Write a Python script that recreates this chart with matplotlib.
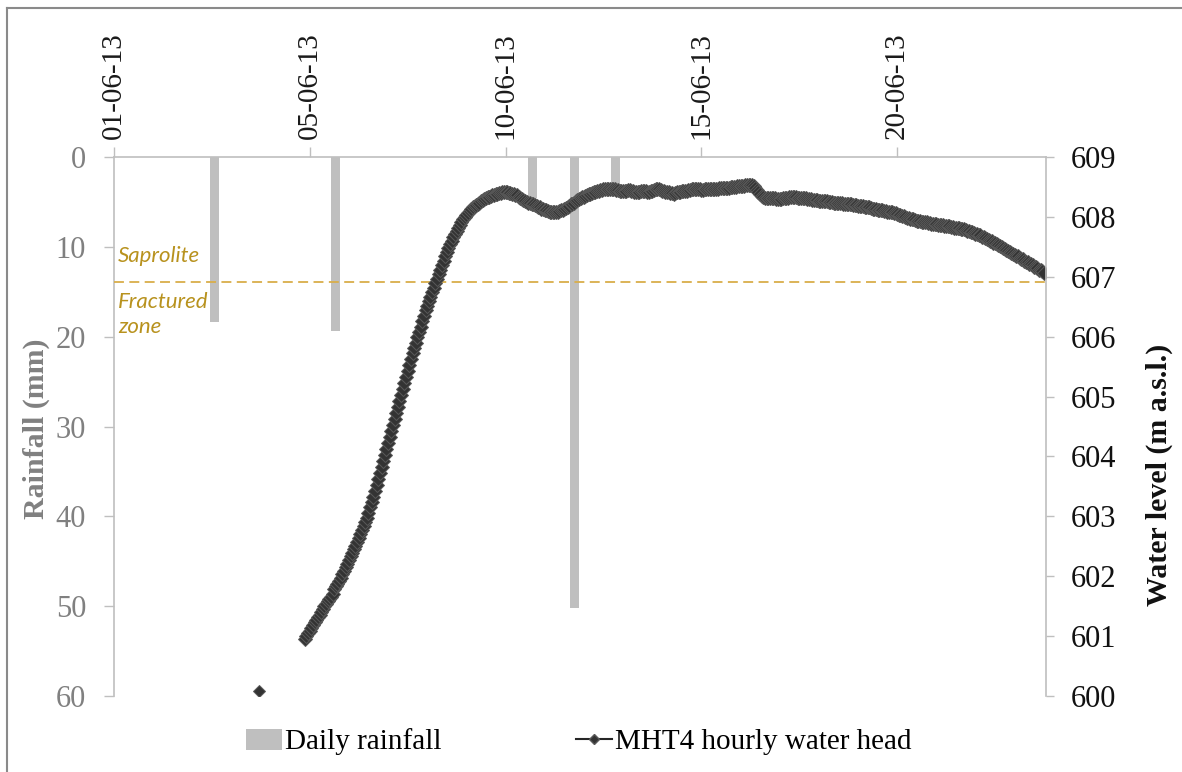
import numpy as np
import matplotlib
matplotlib.use("Agg")
import matplotlib.pyplot as plt
from matplotlib.lines import Line2D

plt.rcParams["font.family"] = ["Liberation Serif", "DejaVu Serif"]

# ---- data -------------------------------------------------------------
# x unit: days on the date axis (tick 0 is the first labelled date)
date_ticks = [0, 5, 10, 15, 20]
date_labels = ["01-06-13", "05-06-13", "10-06-13", "15-06-13", "20-06-13"]

# daily rainfall (mm)
rain_day = [2.58, 5.67, 10.70, 11.76, 12.82]
rain_mm = [18.4, 19.4, 4.6, 50.2, 3.3]

# MHT4 hourly water head (m a.s.l.), first record then continuous series
first_day = [3.70]
first_m = [600.09]

head_start_day = 4.875
head_m = [
    600.96, 601.00, 601.05, 601.09, 601.14, 601.18, 601.23, 601.27, 601.32, 601.36, 601.41, 601.45,
    601.50, 601.54, 601.58, 601.62, 601.66, 601.70, 601.78, 601.83, 601.87, 601.92, 601.97, 602.03,
    602.09, 602.15, 602.21, 602.27, 602.33, 602.39, 602.45, 602.51, 602.58, 602.64, 602.71, 602.77,
    602.84, 602.91, 602.98, 603.06, 603.15, 603.24, 603.33, 603.43, 603.53, 603.63, 603.73, 603.83,
    603.93, 604.03, 604.13, 604.23, 604.33, 604.43, 604.53, 604.63, 604.73, 604.83, 604.93, 605.03,
    605.13, 605.23, 605.33, 605.43, 605.53, 605.62, 605.72, 605.81, 605.90, 605.99, 606.08, 606.17,
    606.26, 606.35, 606.44, 606.52, 606.60, 606.67, 606.75, 606.82, 606.89, 606.96, 607.04, 607.11,
    607.19, 607.26, 607.34, 607.41, 607.48, 607.54, 607.60, 607.66, 607.72, 607.77, 607.82, 607.87,
    607.92, 607.96, 608.00, 608.04, 608.07, 608.10, 608.13, 608.16, 608.18, 608.20, 608.22, 608.24,
    608.26, 608.28, 608.30, 608.31, 608.33, 608.34, 608.35, 608.36, 608.37, 608.38, 608.39, 608.40,
    608.40, 608.41, 608.41, 608.41, 608.41, 608.40, 608.40, 608.39, 608.38, 608.37, 608.36, 608.34,
    608.32, 608.30, 608.28, 608.26, 608.25, 608.24, 608.23, 608.22, 608.21, 608.20, 608.18, 608.17,
    608.16, 608.14, 608.13, 608.12, 608.11, 608.10, 608.09, 608.08, 608.08, 608.08, 608.08, 608.09,
    608.10, 608.11, 608.12, 608.14, 608.15, 608.17, 608.19, 608.21, 608.22, 608.24, 608.26, 608.28,
    608.30, 608.31, 608.33, 608.34, 608.35, 608.37, 608.38, 608.39, 608.40, 608.41, 608.42, 608.43,
    608.44, 608.45, 608.45, 608.46, 608.46, 608.46, 608.46, 608.46, 608.46, 608.46, 608.46, 608.45,
    608.45, 608.44, 608.44, 608.43, 608.43, 608.44, 608.45, 608.45, 608.44, 608.43, 608.42, 608.41,
    608.41, 608.42, 608.43, 608.44, 608.44, 608.43, 608.42, 608.42, 608.43, 608.44, 608.45, 608.46,
    608.46, 608.46, 608.45, 608.44, 608.43, 608.42, 608.42, 608.41, 608.40, 608.40, 608.39, 608.40,
    608.41, 608.42, 608.42, 608.43, 608.43, 608.44, 608.44, 608.45, 608.45, 608.46, 608.46, 608.47,
    608.47, 608.46, 608.46, 608.45, 608.45, 608.46, 608.46, 608.46, 608.47, 608.47, 608.46, 608.46,
    608.47, 608.47, 608.48, 608.48, 608.48, 608.49, 608.49, 608.49, 608.49, 608.50, 608.50, 608.50,
    608.50, 608.51, 608.51, 608.51, 608.52, 608.52, 608.53, 608.53, 608.54, 608.54, 608.53, 608.51,
    608.48, 608.45, 608.42, 608.38, 608.35, 608.33, 608.32, 608.31, 608.31, 608.31, 608.31, 608.31,
    608.31, 608.30, 608.30, 608.30, 608.30, 608.31, 608.31, 608.32, 608.32, 608.33, 608.33, 608.33,
    608.33, 608.33, 608.32, 608.32, 608.32, 608.31, 608.31, 608.31, 608.30, 608.30, 608.30, 608.29,
    608.29, 608.28, 608.28, 608.27, 608.27, 608.27, 608.26, 608.26, 608.26, 608.25, 608.25, 608.25,
    608.24, 608.24, 608.24, 608.23, 608.23, 608.23, 608.22, 608.22, 608.22, 608.21, 608.21, 608.21,
    608.20, 608.20, 608.20, 608.19, 608.19, 608.18, 608.18, 608.17, 608.17, 608.16, 608.16, 608.15,
    608.14, 608.14, 608.13, 608.12, 608.12, 608.11, 608.11, 608.10, 608.10, 608.09, 608.09, 608.08,
    608.08, 608.07, 608.06, 608.05, 608.04, 608.03, 608.02, 608.01, 608.00, 607.99, 607.98, 607.97,
    607.96, 607.96, 607.95, 607.94, 607.94, 607.93, 607.92, 607.92, 607.91, 607.91, 607.90, 607.90,
    607.89, 607.89, 607.88, 607.88, 607.87, 607.87, 607.86, 607.86, 607.85, 607.85, 607.84, 607.84,
    607.83, 607.83, 607.82, 607.82, 607.81, 607.81, 607.80, 607.80, 607.79, 607.78, 607.77, 607.76,
    607.75, 607.74, 607.73, 607.72, 607.71, 607.70, 607.69, 607.67, 607.66, 607.65, 607.63, 607.62,
    607.60, 607.59, 607.57, 607.56, 607.54, 607.53, 607.51, 607.49, 607.48, 607.46, 607.45, 607.43,
    607.42, 607.40, 607.38, 607.37, 607.35, 607.34, 607.32, 607.30, 607.29, 607.27, 607.25, 607.24,
    607.22, 607.21, 607.19, 607.17, 607.16, 607.14, 607.12, 607.11, 607.09, 607.07,
]
head_day = head_start_day + np.arange(len(head_m)) / 24.0

# saprolite / fractured zone boundary (m a.s.l.)
boundary_m = 606.91

# ---- figure -----------------------------------------------------------
fig = plt.figure(figsize=(11.82, 7.72), dpi=100)
ax = fig.add_axes([0.0964, 0.0984, 0.7885, 0.6982])
ax2 = ax.twinx()

grey_axis = "#bfbfbf"

# rainfall bars hanging from the top
bars = ax.bar(rain_day, rain_mm, width=0.23, color="#bfbfbf",
              label="Daily rainfall", zorder=2)
ax.set_ylim(60, 0)
ax.set_xlim(0, 23.8)
ax.set_yticks(range(0, 61, 10))
ax.xaxis.tick_top()
ax.set_xticks(date_ticks)
ax.set_xticklabels(date_labels, rotation=90, fontsize=21)
ax.tick_params(axis="x", direction="out", length=7, width=1,
               color=grey_axis, pad=6, labelcolor="#1a1a1a")
ax.tick_params(axis="y", direction="out", length=7, width=1,
               color=grey_axis, pad=13, labelsize=22, labelcolor="#808080")
for side in ("bottom", "right"):
    ax.spines[side].set_visible(False)
for side in ("top", "left"):
    ax.spines[side].set_color(grey_axis)
    ax.spines[side].set_linewidth(1.2)

# water head on the secondary axis
marker_style = dict(marker="D", markersize=7, markerfacecolor="#333333",
                    markeredgecolor="#595959", markeredgewidth=0.7)
line, = ax2.plot(head_day, head_m, color="#262626", lw=2.5,
                 label="MHT4 hourly water head", **marker_style)
ax2.plot(first_day, first_m, ls="none", **dict(marker_style, markersize=6.3))
ax2.set_ylim(600, 609)
ax2.set_yticks(range(600, 610))
ax2.tick_params(axis="y", direction="out", length=6, width=1,
                color=grey_axis, pad=12, labelsize=22, labelcolor="#111111")
for side in ("top", "bottom", "left"):
    ax2.spines[side].set_visible(False)
ax2.spines["right"].set_color(grey_axis)
ax2.spines["right"].set_linewidth(1.2)

# geological boundary
ax2.axhline(boundary_m, color="#d9ae4a", lw=1.3, ls=(0, (5.5, 3)), zorder=1)
gold = "#b8921e"
ax2.annotate("Saprolite", xy=(0, boundary_m), xycoords=("axes fraction", "data"),
             xytext=(3, 19), textcoords="offset points", va="center", ha="left",
             fontsize=16, style="italic", color=gold, family=["Lato", "DejaVu Sans"])
ax2.annotate("Fractured\nzone", xy=(0, boundary_m), xycoords=("axes fraction", "data"),
             xytext=(3, -7), textcoords="offset points", va="top", ha="left",
             fontsize=16, style="italic", color=gold, linespacing=1.3,
             family=["Lato", "DejaVu Sans"])

# axis titles
fig.text(36 / 1182, 1 - 429 / 772, "Rainfall (mm)", rotation=90, fontsize=21.5,
         fontweight="bold", color="#808080", ha="center", va="center")
fig.text(1159 / 1182, 1 - 475 / 772, "Water level (m a.s.l.)", rotation=90,
         fontsize=21.5, fontweight="bold", color="#111111", ha="center", va="center")

# legend
leg_line = Line2D([], [], color="#262626", lw=1.5, marker="D", markersize=5.5,
                  markerfacecolor="#333333", markeredgecolor="#595959")
fig.legend([bars, leg_line], ["Daily rainfall", "MHT4 hourly water head"],
           loc="center", bbox_to_anchor=(0.4894, 0.0389), ncol=2, frameon=False,
           fontsize=21, handlelength=1.25, handleheight=0.75, handletextpad=0.1,
           columnspacing=4.6, borderpad=0)

# chart border (top and left edges)
border = "#8a8a8a"
fig.add_artist(Line2D([7 / 1182, 7 / 1182], [0, 1 - 8 / 772],
                      transform=fig.transFigure, color=border, lw=1.5))
fig.add_artist(Line2D([7 / 1182, 1], [1 - 8 / 772, 1 - 8 / 772],
                      transform=fig.transFigure, color=border, lw=1.5))

fig.savefig("out.png", dpi=100)
